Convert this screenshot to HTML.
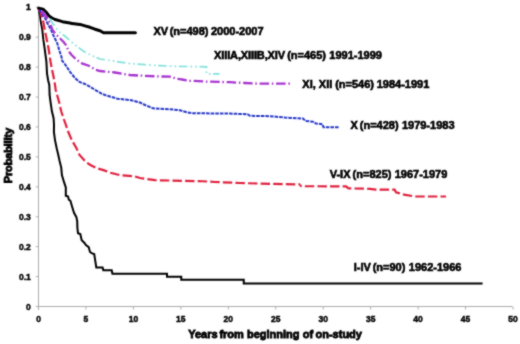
<!DOCTYPE html>
<html><head><meta charset="utf-8"><style>
html,body{margin:0;padding:0;background:#fff;}
svg{display:block;will-change:transform;}

text{font-family:"Liberation Sans",sans-serif;font-weight:bold;fill:#000;stroke:#000;stroke-width:0.6px;}
.tk{font-size:8.5px;stroke-width:0.45px;}
.lb{font-size:11px;}
.ax{font-size:11px;stroke-width:0.8px;}
</style></head><body>
<svg width="520" height="344" viewBox="0 0 520 344">
<defs><filter id="soft" x="0" y="0" width="520" height="344" filterUnits="userSpaceOnUse"><feConvolveMatrix order="3" kernelMatrix="0.0417 0.0833 0.0417 0.0833 0.5 0.0833 0.0417 0.0833 0.0417" divisor="1" preserveAlpha="false"/></filter></defs>
<rect width="520" height="344" fill="#fff"/>
<g filter="url(#soft)">
<line x1="38.5" y1="7" x2="38.5" y2="310" stroke="#adadad" stroke-width="1"/>
<line x1="36.2" y1="306.5" x2="512.5" y2="306.5" stroke="#adadad" stroke-width="1"/>
<line x1="35.8" y1="306.50" x2="38.5" y2="306.50" stroke="#adadad" stroke-width="1"/>
<line x1="35.8" y1="276.58" x2="38.5" y2="276.58" stroke="#adadad" stroke-width="1"/>
<line x1="35.8" y1="246.66" x2="38.5" y2="246.66" stroke="#adadad" stroke-width="1"/>
<line x1="35.8" y1="216.74" x2="38.5" y2="216.74" stroke="#adadad" stroke-width="1"/>
<line x1="35.8" y1="186.82" x2="38.5" y2="186.82" stroke="#adadad" stroke-width="1"/>
<line x1="35.8" y1="156.90" x2="38.5" y2="156.90" stroke="#adadad" stroke-width="1"/>
<line x1="35.8" y1="126.98" x2="38.5" y2="126.98" stroke="#adadad" stroke-width="1"/>
<line x1="35.8" y1="97.06" x2="38.5" y2="97.06" stroke="#adadad" stroke-width="1"/>
<line x1="35.8" y1="67.14" x2="38.5" y2="67.14" stroke="#adadad" stroke-width="1"/>
<line x1="35.8" y1="37.22" x2="38.5" y2="37.22" stroke="#adadad" stroke-width="1"/>
<line x1="35.8" y1="7.30" x2="38.5" y2="7.30" stroke="#adadad" stroke-width="1"/>
<line x1="38.50" y1="306.5" x2="38.50" y2="309.5" stroke="#adadad" stroke-width="1"/>
<line x1="85.95" y1="306.5" x2="85.95" y2="309.5" stroke="#adadad" stroke-width="1"/>
<line x1="133.40" y1="306.5" x2="133.40" y2="309.5" stroke="#adadad" stroke-width="1"/>
<line x1="180.85" y1="306.5" x2="180.85" y2="309.5" stroke="#adadad" stroke-width="1"/>
<line x1="228.30" y1="306.5" x2="228.30" y2="309.5" stroke="#adadad" stroke-width="1"/>
<line x1="275.75" y1="306.5" x2="275.75" y2="309.5" stroke="#adadad" stroke-width="1"/>
<line x1="323.20" y1="306.5" x2="323.20" y2="309.5" stroke="#adadad" stroke-width="1"/>
<line x1="370.65" y1="306.5" x2="370.65" y2="309.5" stroke="#adadad" stroke-width="1"/>
<line x1="418.10" y1="306.5" x2="418.10" y2="309.5" stroke="#adadad" stroke-width="1"/>
<line x1="465.55" y1="306.5" x2="465.55" y2="309.5" stroke="#adadad" stroke-width="1"/>
<line x1="513.00" y1="306.5" x2="513.00" y2="309.5" stroke="#adadad" stroke-width="1"/>
<text x="30.8" y="309.50" text-anchor="end" class="tk">0</text>
<text x="30.8" y="279.58" text-anchor="end" class="tk">0.1</text>
<text x="30.8" y="249.66" text-anchor="end" class="tk">0.2</text>
<text x="30.8" y="219.74" text-anchor="end" class="tk">0.3</text>
<text x="30.8" y="189.82" text-anchor="end" class="tk">0.4</text>
<text x="30.8" y="159.90" text-anchor="end" class="tk">0.5</text>
<text x="30.8" y="129.98" text-anchor="end" class="tk">0.6</text>
<text x="30.8" y="100.06" text-anchor="end" class="tk">0.7</text>
<text x="30.8" y="70.14" text-anchor="end" class="tk">0.8</text>
<text x="30.8" y="40.22" text-anchor="end" class="tk">0.9</text>
<text x="30.8" y="10.30" text-anchor="end" class="tk">1</text>
<text x="38.50" y="322" text-anchor="middle" class="tk">0</text>
<text x="85.95" y="322" text-anchor="middle" class="tk">5</text>
<text x="133.40" y="322" text-anchor="middle" class="tk">10</text>
<text x="180.85" y="322" text-anchor="middle" class="tk">15</text>
<text x="228.30" y="322" text-anchor="middle" class="tk">20</text>
<text x="275.75" y="322" text-anchor="middle" class="tk">25</text>
<text x="323.20" y="322" text-anchor="middle" class="tk">30</text>
<text x="370.65" y="322" text-anchor="middle" class="tk">35</text>
<text x="418.10" y="322" text-anchor="middle" class="tk">40</text>
<text x="465.55" y="322" text-anchor="middle" class="tk">45</text>
<text x="513.00" y="322" text-anchor="middle" class="tk">50</text>
<polyline points="38.50,8.00 44.00,12.50 49.00,17.70 52.50,23.00 56.80,29.00 60.30,32.60 64.70,36.00 70.80,41.30 76.50,46.00 84.20,51.70 92.30,55.80 100.00,59.00 115.00,61.30 130.00,63.60 145.00,64.70 160.00,65.60 170.00,66.20 206.50,66.80 206.50,73.90 219.50,73.90" fill="none" stroke="#80e2dc" stroke-width="1.7" stroke-dasharray="8.5 3.2 1.6 3.2 1.6 2.6" stroke-dashoffset="5.26"/>
<polyline points="38.50,7.50 39.30,12.00 40.40,20.00 42.30,29.60 43.30,39.20 44.70,48.80 45.50,55.00 46.40,61.60 47.00,73.30 48.10,80.20 49.30,84.90 49.60,95.00 50.70,103.10 51.90,111.30 53.60,118.20 54.00,125.00 53.90,132.00 55.00,140.10 56.70,148.30 58.30,155.00 59.60,161.00 61.20,167.30 61.90,175.00 64.20,182.70 65.80,187.30 65.80,195.80 68.10,196.50 68.80,199.60 70.40,200.80 72.20,207.00 74.00,212.80 76.30,216.90 77.20,221.00 77.40,228.00 78.00,233.20 80.30,234.00 81.70,240.20 84.50,243.00 85.90,245.10 88.70,247.10 90.00,252.00 92.10,253.40 94.20,254.10 94.90,258.30 96.30,267.40 102.60,267.40 103.30,270.20 111.70,270.20 112.40,273.70 167.00,273.70 167.00,276.65 181.25,276.65 181.25,279.65 243.75,279.65 243.75,283.40 482.60,283.40" fill="none" stroke="#000" stroke-width="2" stroke-linejoin="miter"/>
<polyline points="38.50,9.00 40.50,12.00 43.00,20.00 44.70,29.60 46.70,39.20 48.60,48.80 50.50,61.60 52.80,73.30 54.50,81.40 55.70,90.00 57.10,95.00 59.40,103.10 61.20,111.30 63.50,118.20 66.40,126.40 68.30,132.00 71.80,140.10 76.50,148.30 79.50,155.00 82.70,158.50 85.80,161.90 90.40,165.00 96.50,168.10 104.20,170.40 110.40,172.70 119.60,175.00 135.00,176.50 140.00,178.00 155.00,180.20 202.50,181.25 215.00,182.00 240.00,183.00 260.00,183.60 299.40,184.40 300.00,185.00" fill="none" stroke="#e0223e" stroke-width="2.2" stroke-dasharray="9.4 3.2" stroke-dashoffset="0.11"/>
<polyline points="300.00,185.00 301.25,186.25 346.00,186.30 348.50,188.40 370.00,188.80 376.00,189.60 394.60,189.60 396.00,192.30 404.00,194.60 414.80,196.50 446.00,196.50" fill="none" stroke="#e0223e" stroke-width="2.2" stroke-dasharray="9.4 3.2" stroke-dashoffset="7.23"/>
<polyline points="38.50,8.00 42.00,14.00 46.20,20.00 46.70,22.00 50.50,28.70 54.30,37.30 57.20,43.00 59.20,50.00 61.50,57.00 62.10,60.50 65.60,65.10 70.20,72.10 74.90,77.90 79.50,82.00 84.20,83.70 88.80,86.00 94.50,89.50 102.00,93.80 105.00,95.00 117.50,98.75 130.00,100.00 140.00,102.50 145.00,105.00 153.00,108.30 170.00,109.20 180.00,110.30 187.00,112.30 192.00,113.20 230.00,113.60 247.50,114.20 250.00,115.80 270.00,116.20 285.00,117.50 303.00,118.50 305.50,121.00 313.00,121.70 316.00,123.60 322.50,124.20 323.50,127.30 339.00,127.30" fill="none" stroke="#2838c8" stroke-width="2.0" stroke-dasharray="3.6 1.0" stroke-dashoffset="2.60"/>
<polyline points="38.50,8.00 43.00,13.00 46.80,17.70 49.80,23.00 52.50,30.00 55.10,33.40 59.40,37.80 63.80,42.20 66.40,45.60 68.50,51.00 71.40,54.70 76.00,59.30 81.90,63.40 88.80,65.70 95.80,69.80 100.00,71.00 115.00,72.50 130.00,75.00 140.00,75.60 160.00,76.50 172.00,76.70 175.00,78.50 180.00,79.21" fill="none" stroke="#a834d0" stroke-width="2.3" stroke-dasharray="9.5 2.75 1.5 2.75" stroke-dashoffset="12.00"/>
<polyline points="180.00,79.21 182.00,79.50 190.00,80.80 205.00,81.50 230.00,82.20 245.00,83.00 260.00,83.70 292.00,83.70" fill="none" stroke="#a834d0" stroke-width="2.3" stroke-dasharray="9.5 2.75 1.5 2.75" stroke-dashoffset="2.71"/>
<polyline points="38.50,8.10 43.00,9.20 46.00,12.00 49.00,16.00 52.00,18.00 55.10,19.50 60.00,20.90 63.80,22.10 70.00,23.00 72.00,23.60 80.00,24.40 85.00,25.90 90.00,27.30 95.00,29.20 100.00,30.70 103.50,32.70 135.40,32.70" fill="none" stroke="#000" stroke-width="3" stroke-linecap="round" stroke-linejoin="round"/>
<text y="35.10" class="lb"><tspan x="153.45">XV</tspan><tspan x="169.70">(n=498)</tspan><tspan x="210.95">2000-2007</tspan></text>
<text y="58.60" class="lb"><tspan x="214.10" textLength="71.0">XIIIA,XIIIB,XIV</tspan><tspan x="287.20">(n=465)</tspan><tspan x="329.30">1991-1999</tspan></text>
<text y="87.50" class="lb"><tspan x="302.30">XI, XII</tspan><tspan x="335.20">(n=546)</tspan><tspan x="376.70">1984-1991</tspan></text>
<text y="129.40" class="lb"><tspan x="350.60">X</tspan><tspan x="359.80">(n=428)</tspan><tspan x="401.90">1979-1983</tspan></text>
<text y="177.80" class="lb"><tspan x="329.70">V-IX</tspan><tspan x="352.60">(n=825)</tspan><tspan x="394.70">1967-1979</tspan></text>
<text y="270.80" class="lb"><tspan x="353.70">I-IV</tspan><tspan x="372.70">(n=90)</tspan><tspan x="408.80">1962-1966</tspan></text>
<text y="338.0" class="ax"><tspan x="188.20">Years</tspan><tspan x="219.40">from</tspan><tspan x="247.00">beginning</tspan><tspan x="302.80">of</tspan><tspan x="315.50">on-study</tspan></text>
<text transform="translate(11.8,155.5) rotate(-90)" text-anchor="middle" class="ax" textLength="55.5">Probability</text>
</g>
</svg>
</body></html>
